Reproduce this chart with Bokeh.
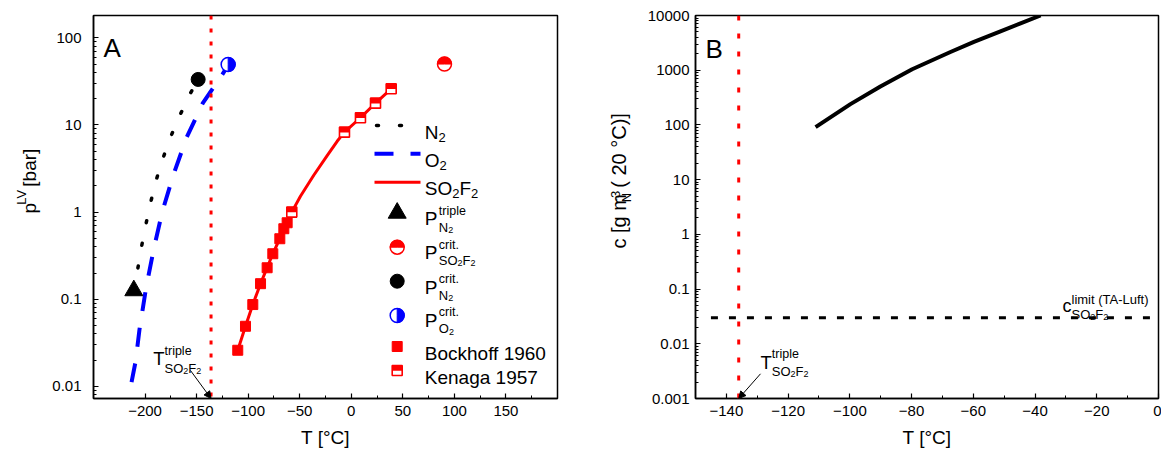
import math
from bokeh.plotting import figure
from bokeh.layouts import row
from bokeh.models import (FixedTicker, CustomJSTickFormatter, Label, Arrow, NormalHead,
                          Range1d, Span)
from bokeh.embed import file_html
from bokeh.resources import INLINE

FONT = "Liberation Sans"
RED = "#ff0000"
BLUE = "#0000ff"

# ---------------- data ----------------
# Panel A : vapour pressure p^LV [bar] vs T [°C]
n2_T = [-210.9, -207.6, -203.8, -199.6, -194.7, -189.6, -182.8, -175.3, -166.6, -157.6, -148.5]
n2_p = [0.126, 0.205, 0.38, 0.686, 1.27, 2.25, 4.09, 7.25, 12.6, 21.4, 33.3]

o2_T = [-213.1, -209.3, -205.4, -198.9, -191.5, -183.4, -172.7, -159.8, -144.0, -123.6, -119.4]
o2_p = [0.0112, 0.019, 0.045, 0.138, 0.38, 1.0, 2.64, 7.13, 17.8, 40.3, 49.4]

so2f2_T = [-110.1, -102.6, -95.5, -88.0, -81.6, -76.1, -69.3, -65.4, -62.2, -57.7,
           -49.3, -36.4, -23.4, -13.7, -6.6, 8.9, 23.5, 38.7]
so2f2_p = [0.026, 0.049, 0.087, 0.151, 0.23, 0.333, 0.495, 0.645, 0.755, 1.0,
           1.52, 2.65, 4.45, 6.5, 8.27, 12.1, 17.8, 26.0]

bockhoff_T = [-110.1, -102.6, -95.5, -88.0, -81.6, -76.1, -69.3, -65.4, -62.2]
bockhoff_p = [0.026, 0.049, 0.087, 0.151, 0.23, 0.333, 0.495, 0.645, 0.755]

kenaga_T = [-57.7, -6.6, 8.9, 23.5, 38.7]
kenaga_p = [1.0, 8.27, 12.1, 17.8, 26.0]

n2_triple_T, n2_triple_p = [-210.9], [0.126]
so2f2_crit_T, so2f2_crit_p = [90.4], [50.0]
n2_crit_T, n2_crit_p = [-148.5], [33.3]
o2_crit_T, o2_crit_p = [-119.4], [49.4]

T_TRIPLE = -136.0  # SO2F2 triple point

# Panel B : concentration c [g m_N^-3] vs T [°C]
conc_T = [-111.1, -99.8, -90.1, -79.8, -67.4, -59.8, -51.2, -44.7, -38.2]
conc_c = [91, 240, 505, 1040, 2150, 3300, 5150, 7200, 10000]

limit_T = [-145, 0]
limit_c = [0.03, 0.03]

# tick labels
xA_ticks = [-200, -150, -100, -50, 0, 50, 100, 150]
yA_ticks = [0.01, 0.1, 1, 10, 100]
xB_ticks = [-140, -120, -100, -80, -60, -40, -20, 0]
yB_ticks = [0.001, 0.01, 0.1, 1, 10, 100, 1000, 10000]

# ---------------- layout constants ----------------
XA = (-250, 200)
YA = (0.00727, 180.3)
XB = (-150, 0)
YB = (0.001, 10000)
FA_LEFT, FB_LEFT, F_TOP, F_BOTTOM = 93, 695, 15, 398
FA_W, FB_W, F_H = 464, 463, 383
H = 451
YA_W, YB_W = 48, 40

WID = {' ': 278, '(': 333, ')': 333, '-': 333, '.': 278, 'A': 667, 'B': 667, 'C': 722,
       'F': 611, 'K': 667, 'L': 556, 'N': 722, 'O': 778, 'P': 667, 'S': 667, 'T': 611,
       'V': 667, '[': 278, ']': 278, 'a': 556, 'b': 556, 'c': 500, 'e': 556, 'f': 278,
       'g': 556, 'h': 556, 'i': 222, 'k': 500, 'l': 222, 'm': 833, 'n': 556, 'o': 556,
       'p': 556, 'r': 333, 't': 278, 'u': 556, '°': 400, '\u2212': 584}


def tw(text, size):
    return sum(WID.get(ch, 556) for ch in text) / 1000.0 * size


def mapper(left, width, xr, yr):
    l0, l1 = math.log10(yr[0]), math.log10(yr[1])

    def fx(px):
        return xr[0] + (px - left) / width * (xr[1] - xr[0])

    def fy(py):
        return 10 ** (l1 - (py - F_TOP) / F_H * (l1 - l0))
    return fx, fy


ax_, ay_ = mapper(FA_LEFT, FA_W, XA, YA)
bx_, by_ = mapper(FB_LEFT, FB_W, XB, YB)

PLACE = {}  # figure id -> function(px, py) -> (x, y, units)


def label(p, px, py, text, size, angle=0.0, align="left", color="black"):
    x, y, units = PLACE[id(p)](px, py)
    p.add_layout(Label(x=x, y=y, x_units=units, y_units=units,
                       text=text, text_font=FONT, text_font_size=f"{size}px",
                       angle=angle, text_align=align, text_baseline="alphabetic",
                       text_color=color))


def rich(p, px, py, parts, angle=0.0):
    ca, sa = math.cos(angle), math.sin(angle)
    adv = 0.0
    for part in parts:
        text, size, shift = part[0], part[1], part[2]
        advance = part[3] if len(part) > 3 else True
        dx = part[4] if len(part) > 4 else 0.0
        stripped = text.lstrip(" ")
        dx += tw(text[:len(text) - len(stripped)], size)  # leading blanks are collapsed in SVG
        a = adv + dx
        x = px + a * ca - shift * sa
        y = py - a * sa - shift * ca
        label(p, x, y, stripped, size, angle=angle)
        if advance:
            adv = a + tw(stripped, size)


def blank_fig(width, height, left, top):
    f = figure(width=width, height=height, x_range=Range1d(0, width), y_range=Range1d(0, height),
               output_backend="svg", toolbar_location=None, x_axis_location=None,
               y_axis_location=None, min_border_left=0, min_border_right=0,
               min_border_top=0, min_border_bottom=0)
    f.outline_line_color = None
    f.xgrid.visible = False
    f.ygrid.visible = False
    f.background_fill_color = "white"
    f.border_fill_color = "white"
    PLACE[id(f)] = lambda px, py: (px - left, top + height - py, "data")
    return f


def make_fig(xr, yr, width, bl, br, frame_left, xt, xminor, yt, yminor, ystand):
    p = figure(width=width, height=H, x_range=Range1d(*xr), y_range=Range1d(*yr),
               y_axis_type="log", output_backend="svg", toolbar_location=None,
               min_border_left=bl, min_border_right=br, min_border_top=F_TOP,
               min_border_bottom=H - F_BOTTOM)
    p.xgrid.visible = False
    p.ygrid.visible = False
    p.outline_line_color = "black"
    p.outline_line_width = 1.5
    p.outline_line_alpha = 1.0
    p.background_fill_color = "white"
    p.border_fill_color = "white"
    fmt = CustomJSTickFormatter(code="return (tick < 0 ? '\u2212' : '') + Math.abs(tick).toString();")
    p.xaxis.ticker = FixedTicker(ticks=xt, minor_ticks=xminor)
    p.yaxis.ticker = FixedTicker(ticks=yt, minor_ticks=yminor)
    for ax in (p.xaxis[0], p.yaxis[0]):
        ax.formatter = fmt
        ax.axis_line_width = 1.5
        ax.major_tick_in = 5
        ax.major_tick_out = 0
        ax.minor_tick_in = 3
        ax.minor_tick_out = 0
        ax.major_tick_line_width = 1.2
        ax.minor_tick_line_width = 1.0
        ax.major_label_text_font = FONT
        ax.major_label_text_font_size = "15px"
        ax.major_label_text_color = "black"
    p.xaxis.major_label_standoff = 7
    p.yaxis.major_label_standoff = ystand
    p.xaxis.axis_label = "T [°C]"
    p.xaxis.axis_label_text_font = FONT
    p.xaxis.axis_label_text_font_size = "19px"
    p.xaxis.axis_label_text_font_style = "normal"
    p.xaxis.axis_label_text_color = "black"
    p.xaxis.axis_label_standoff = 8
    PLACE[id(p)] = lambda px, py: (px - frame_left, F_BOTTOM - py, "screen")
    return p


def log_minors(lo, hi):
    out = []
    for e in range(-4, 6):
        for m in range(2, 10):
            v = m * 10.0 ** e
            if lo <= v <= hi:
                out.append(v)
    return out


# ---------------- panel A ----------------
yfA = blank_fig(YA_W, H, 0, 0)
pA = make_fig(XA, YA, 600 - YA_W, FA_LEFT - YA_W, 600 - FA_LEFT - FA_W, FA_LEFT, xA_ticks,
              [t + 25 for t in xA_ticks], yA_ticks, log_minors(*YA), 12)

pA.add_layout(Span(location=T_TRIPLE, dimension="height", line_color=RED,
                   line_width=3, line_dash="4 9"))

pA.line(n2_T, n2_p, line_color="black", line_width=3.5, line_dash="2 21", line_cap="round")
pA.line(o2_T, o2_p, line_color=BLUE, line_width=4, line_dash="19 17")
pA.line(so2f2_T, so2f2_p, line_color=RED, line_width=3)

pA.scatter(bockhoff_T, bockhoff_p, marker="square", size=10, fill_color=RED, line_color=RED)

dec_A = F_H / (math.log10(YA[1]) - math.log10(YA[0]))
up_A = 10 ** (2.5 / dec_A)


def kenaga_marker(p, xs, ys, up):
    p.scatter(xs, ys, marker="square", size=10, fill_color="white", line_color=RED, line_width=1.6)
    p.rect(xs, [v * up for v in ys], width=10, height=5.5, width_units="screen",
           height_units="screen", fill_color=RED, line_color=None)


def half_circle(p, xs, ys, color, start, end):
    p.scatter(xs, ys, marker="circle", size=14, fill_color="white", line_color=color, line_width=1.5)
    p.wedge(xs, ys, radius=7, radius_units="screen", start_angle=start, end_angle=end,
            fill_color=color, line_color=color, line_width=1)


kenaga_marker(pA, kenaga_T, kenaga_p, up_A)
pA.scatter(n2_triple_T, n2_triple_p, marker="triangle", size=18, fill_color="black", line_color="black")
half_circle(pA, so2f2_crit_T, so2f2_crit_p, RED, 0, math.pi)
pA.scatter(n2_crit_T, n2_crit_p, marker="circle", size=14, fill_color="black", line_color="black")
half_circle(pA, o2_crit_T, o2_crit_p, BLUE, -math.pi / 2, math.pi / 2)

# legend (drawn by hand so that sub-/superscripts can be rendered)
LGX = 396.7
pA.line([ax_(376), ax_(420)], [ay_(125), ay_(125)], line_color="black", line_width=3.5,
        line_dash="2 21", line_cap="round")
pA.line([ax_(374), ax_(420)], [ay_(153.3), ay_(153.3)], line_color=BLUE, line_width=4,
        line_dash="19 17")
pA.line([ax_(374), ax_(420)], [ay_(181.7), ay_(181.7)], line_color=RED, line_width=3)
pA.scatter([ax_(LGX)], [ay_(212.5)], marker="triangle", size=18, fill_color="black", line_color="black")
half_circle(pA, [ax_(LGX)], [ay_(246.7)], RED, 0, math.pi)
pA.scatter([ax_(LGX)], [ay_(280.7)], marker="circle", size=14, fill_color="black", line_color="black")
half_circle(pA, [ax_(LGX)], [ay_(315)], BLUE, -math.pi / 2, math.pi / 2)
pA.scatter([ax_(LGX)], [ay_(346)], marker="square", size=10, fill_color=RED, line_color=RED)
kenaga_marker(pA, [ax_(LGX)], [ay_(370)], up_A)

LTX = 424.3
rich(pA, LTX, 131.7, [("N", 19, 0), ("2", 13, -5)])
rich(pA, LTX, 160.0, [("O", 19, 0), ("2", 13, -5)])
rich(pA, LTX, 188.4, [("SO", 19, 0), ("2", 13, -5), ("F", 19, 0), ("2", 13, -5)])
rich(pA, LTX, 218.3, [("P", 19, 0), ("triple", 12.5, 8.3, False, 1.3),
                      ("N", 13, -8.4, True, 1.3), ("2", 9, -11)])
rich(pA, LTX, 252.3, [("P", 19, 0), ("crit.", 12.5, 8.3, False, 1.3),
                      ("SO", 13, -7.5, True, 1.3), ("2", 9, -10), ("F", 13, -7.5), ("2", 9, -10)])
rich(pA, LTX, 286.7, [("P", 19, 0), ("crit.", 12.5, 8.3, False, 1.3),
                      ("N", 13, -8.4, True, 1.3), ("2", 9, -11)])
rich(pA, LTX, 320.0, [("P", 19, 0), ("crit.", 12.5, 8.3, False, 1.3),
                      ("O", 13, -8.4, True, 1.3), ("2", 9, -11)])
label(pA, LTX, 352.7, "Bockhoff 1960", 19)
label(pA, LTX, 376.7, "Kenaga 1957", 19)

# panel letter, annotations
label(pA, 103, 47.3, "A", 26)
rich(pA, 152.7, 358.3, [("T", 18.5, 0), ("triple", 12.5, 8.3, False),
                        ("SO", 13, -9.4), ("2", 9, -12), ("F", 13, -9.4), ("2", 9, -12)])
pA.add_layout(Arrow(end=NormalHead(size=7, fill_color="black", line_color="black"),
                    x_start=ax_(190), y_start=ay_(370), x_end=T_TRIPLE, y_end=YA[0],
                    line_width=1, line_color="black"))
# y-axis title A
rich(yfA, 29, 233.3, [("p", 19, 0), ("LV", 13, 8), (" [bar]", 19, 0)], angle=math.pi / 2)

# ---------------- panel B ----------------
yfB = blank_fig(YB_W, H, 600, 0)
pB = make_fig(XB, YB, 561 - YB_W, FB_LEFT - 600 - YB_W, 561 - (FB_LEFT - 600) - FB_W, FB_LEFT,
              xB_ticks, [t - 10 for t in xB_ticks], yB_ticks, log_minors(*YB), 6)

pB.add_layout(Span(location=T_TRIPLE, dimension="height", line_color=RED,
                   line_width=3, line_dash="5 13"))
pB.line(limit_T, limit_c, line_color="black", line_width=3, line_dash="7 11")
pB.line(conc_T, conc_c, line_color="black", line_width=4)

label(pB, 705, 48, "B", 26)
rich(pB, 760, 361.7, [("T", 18.5, 0), ("triple", 12.5, 8.3, False),
                      ("SO", 13, -9.4), ("2", 9, -12), ("F", 13, -9.4), ("2", 9, -12)])
pB.add_layout(Arrow(end=NormalHead(size=7, fill_color="black", line_color="black"),
                    x_start=bx_(760), y_start=by_(373.3), x_end=T_TRIPLE, y_end=YB[0],
                    line_width=1, line_color="black"))
rich(pB, 1062, 305, [("c", 18, 0), ("limit (TA-Luft)", 13, 6, False),
                     ("SO", 13, -9), ("2", 9, -11.5), ("F", 13, -9), ("2", 9, -11.5)])
# y-axis title B
rich(yfB, 618, 274.5, [("c [g m", 20, 0), ("N", 13, -8, False), ("-3", 13, 3.5),
                       (" ( 20 °C)]", 20, 0)], angle=math.pi / 2)

layout = row(yfA, pA, yfB, pB)
open("out.html", "w").write(file_html(layout, INLINE))
